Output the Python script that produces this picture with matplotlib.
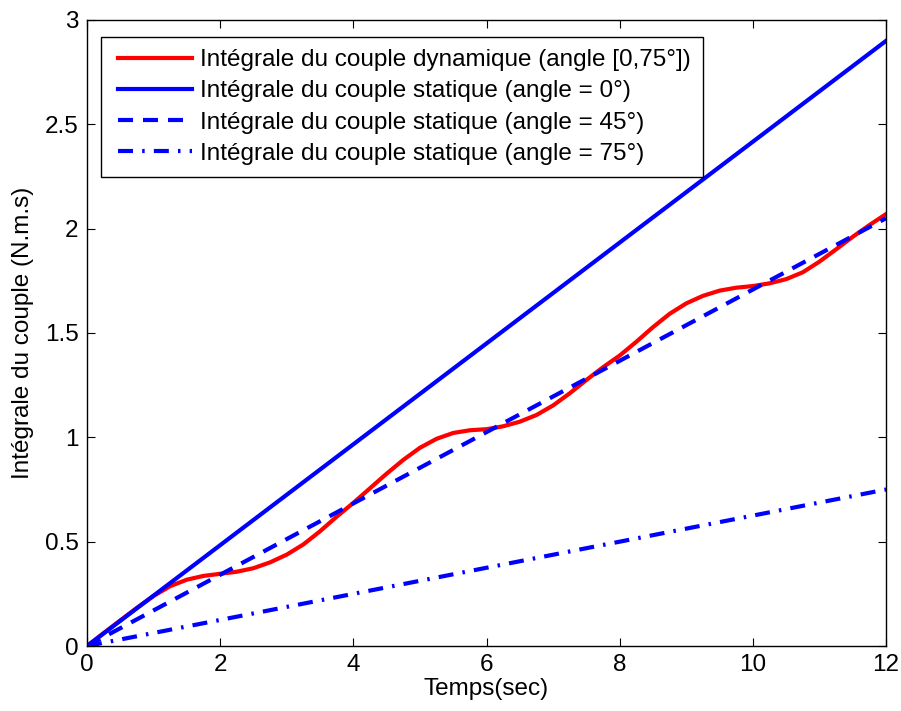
import numpy as np
import matplotlib
matplotlib.use('Agg')
import matplotlib.pyplot as plt
from matplotlib.ticker import FormatStrFormatter
from matplotlib.legend_handler import HandlerLine2D

# time axis (s) and read-off values (N.m.s)
t = [0, 0.25, 0.5, 0.75, 1, 1.25, 1.5, 1.75, 2, 2.25, 2.5, 2.75, 3, 3.25, 3.5, 3.75,
     4, 4.25, 4.5, 4.75, 5, 5.25, 5.5, 5.75, 6, 6.25, 6.5, 6.75, 7, 7.25, 7.5, 7.75,
     8, 8.25, 8.5, 8.75, 9, 9.25, 9.5, 9.75, 10, 10.25, 10.5, 10.75, 11, 11.25, 11.5, 11.75, 12]
dynamique = [0, 0.062, 0.123, 0.183, 0.240, 0.287, 0.318, 0.336, 0.346, 0.356, 0.373, 0.401,
             0.438, 0.487, 0.550, 0.620, 0.686, 0.756, 0.826, 0.892, 0.950, 0.993, 1.021,
             1.034, 1.039, 1.053, 1.075, 1.107, 1.153, 1.211, 1.275, 1.336, 1.392, 1.458,
             1.528, 1.592, 1.642, 1.678, 1.703, 1.717, 1.725, 1.738, 1.758, 1.791, 1.842,
             1.901, 1.961, 2.017, 2.070]

t_static = [0, 12]
statique_0 = [0, 2.90]
statique_45 = [0, 2.05]
statique_75 = [0, 0.75]

labels = ['Intégrale du couple dynamique (angle [0,75°])',
          'Intégrale du couple statique (angle = 0°)',
          'Intégrale du couple statique (angle = 45°)',
          'Intégrale du couple statique (angle = 75°)']

plt.rcParams['font.family'] = ['Liberation Sans', 'DejaVu Sans']
fs = 17.5

fig = plt.figure(figsize=(9.01, 7.11), dpi=100)
ax = fig.add_axes([0.0966, 0.0914, 0.8868, 0.8805])

ax.plot(t, dynamique, color='#ff0000', lw=3, label=labels[0])
ax.plot(t_static, statique_0, color='#0000ff', lw=3, label=labels[1])
ax.plot(t_static, statique_45, color='#0000ff', lw=3, dashes=(3.6, 2.4), label=labels[2])
ax.plot(t_static, statique_75, color='#0000ff', lw=3, dashes=(3.6, 2.2, 0.6, 2.2), label=labels[3])

ax.set_xlim(0, 12)
ax.set_ylim(0, 3)
ax.set_xticks(range(0, 13, 2))
ax.set_yticks(np.arange(0, 3.01, 0.5))
ax.yaxis.set_major_formatter(FormatStrFormatter('%g'))
ax.tick_params(direction='in', length=6, width=0.8, top=True, right=True, labelsize=fs, pad=6)
for s in ax.spines.values():
    s.set_linewidth(1.0)

ax.set_xlabel('Temps(sec)', fontsize=fs, labelpad=1)
ax.set_ylabel('Intégrale du couple (N.m.s)', fontsize=fs, labelpad=8)

leg = ax.legend(loc='upper left', bbox_to_anchor=(0.0175, 0.973), fancybox=False,
                edgecolor='black', framealpha=1, fontsize=fs, handlelength=3.25,
                borderaxespad=0, labelspacing=0.38, handletextpad=0.33, borderpad=0.5,
                handler_map={matplotlib.lines.Line2D: HandlerLine2D(xpad=0.2)})
leg.get_frame().set_linewidth(1.0)

plt.savefig('out.png', dpi=100)
plt.close()
